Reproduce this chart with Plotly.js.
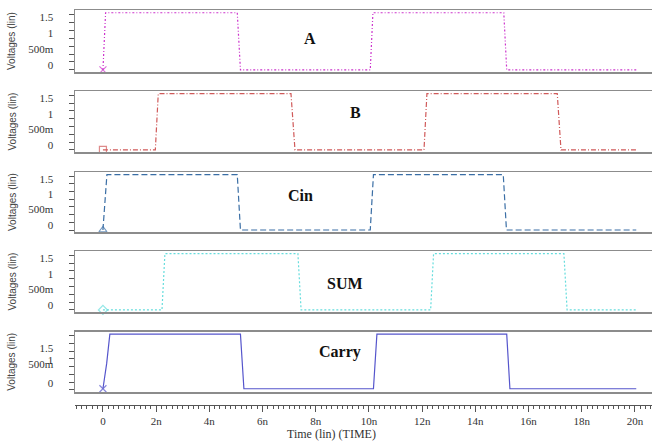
<!DOCTYPE html>
<html><head><meta charset="utf-8">
<script src="https://cdn.plot.ly/plotly-3.0.1.min.js"></script>
<style>html,body{margin:0;padding:0;background:#fff}#chart{width:652px;height:441px}</style>
</head><body><div id="chart"></div>
<script>
// ---- data (time in ns, voltage in V) ----
const signalNames = ['A', 'B', 'Cin', 'SUM', 'Carry'];
const tA = [0, 0.1, 5.05, 5.17, 10.05, 10.15, 15.07, 15.18, 20.05];
const vA = [0, 1.8, 1.8, 0, 0, 1.8, 1.8, 0, 0];
const tB = [0, 1.97, 2.08, 7.07, 7.22, 12.07, 12.18, 17.08, 17.22, 20.05];
const vB = [0, 0, 1.8, 1.8, 0, 0, 1.8, 1.8, 0, 0];
const tCin = [0, 0.15, 5.05, 5.17, 10.05, 10.17, 15.05, 15.17, 20.05];
const vCin = [0, 1.8, 1.8, 0, 0, 1.8, 1.8, 0, 0];
const tSum = [0, 2.22, 2.33, 7.33, 7.45, 12.32, 12.43, 17.33, 17.45, 20.05];
const vSum = [0, 0, 1.8, 1.8, 0, 0, 1.8, 1.8, 0, 0];
const tCarry = [0, 0.14, 0.26, 5.17, 5.3, 10.17, 10.3, 15.18, 15.3, 20.05];
const vCarry = [0.04, 0.85, 1.8, 1.8, 0.04, 0.04, 1.8, 1.8, 0.04, 0.04];

const yTickVals = [0, 0.5, 1, 1.5];
const yTickText = ['0', '500m', '1', '1.5'];
const carryTickVals = [0.06, 0.68, 0.81, 1.2];
const yMinorVals = [0, 0.25, 0.5, 0.75, 1, 1.25, 1.5, 1.75];
const xTickVals = [0, 2, 4, 6, 8, 10, 12, 14, 16, 18, 20];
const xTickText = ['0', '2n', '4n', '6n', '8n', '10n', '12n', '14n', '16n', '18n', '20n'];
const xTitle = 'Time (lin) (TIME)';
const yTitle = 'Voltages (lin)';

// ---- styling ----
const W = 652, H = 441, ML = 75, MR = 0, MT = 10, MB = 36;
const PW = W - ML - MR, PH = H - MT - MB;
const panelsPx = [[10, 72], [91, 152], [172, 232], [251, 312], [331.5, 392]];
const colors = ['#cc33cc', '#d05a5a', '#3a6ea5', '#66dddd', '#5555cc'];
const dashes = ['2px,2px,1px,2px', '5px,2px,1px,2px', '6px,3px', '2px,2px', 'solid'];
const symbols = ['x-thin-open', 'square-open', 'triangle-up-open', 'diamond-open', 'x-thin-open'];
const series = [[tA, vA], [tB, vB], [tCin, vCin], [tSum, vSum], [tCarry, vCarry]];
const labelPx = [[310, 38], [355, 112], [300, 195], [345, 283], [340, 352]];

const py = y => (H - MB - y) / PH;
const px = x => (x - ML) / PW;
const xRange = [-1.05, -1.05 + PW / 26.6];
const yRange = [-0.065, 1.886];

const traces = [];
const layout = {
  width: W, height: H,
  margin: {l: ML, r: MR, t: MT, b: MB, pad: 0},
  paper_bgcolor: '#fff', plot_bgcolor: 'rgba(0,0,0,0)',
  showlegend: false,
  font: {family: 'Liberation Serif', size: 11, color: '#333'},
  annotations: []
};

// bottom time axis (free, below the last panel) - defined first so its layer sits underneath
traces.push({x: [], y: [], xaxis: 'x6', yaxis: 'y5', type: 'scatter', mode: 'lines', hoverinfo: 'skip'});

series.forEach((s, i) => {
  const k = i + 1;
  const sfx = k === 1 ? '' : String(k);
  traces.push({
    x: s[0], y: s[1], xaxis: 'x' + sfx, yaxis: 'y' + sfx,
    type: 'scatter', mode: 'lines+markers',
    line: {color: colors[i], width: 1.2, dash: dashes[i]},
    marker: {symbol: symbols[i], color: colors[i], size: s[0].map((_, j) => j === 0 ? 7 : 0),
             line: {color: colors[i], width: 1.2}},
    hoverinfo: 'skip', cliponaxis: false
  });
  const [top, bot] = panelsPx[i];
  layout['xaxis' + sfx] = {
    domain: [0, 1], anchor: 'y' + sfx, range: xRange,
    showline: true, mirror: true, linecolor: '#8c8c8c', linewidth: 1.5,
    showgrid: false, zeroline: false, showticklabels: false, ticks: ''
  };
  layout['yaxis' + sfx] = {
    domain: [py(bot), py(top)], anchor: 'x' + sfx, range: yRange,
    showline: true, mirror: true, linecolor: '#8c8c8c', linewidth: 1.5,
    showgrid: false, zeroline: false,
    tickmode: 'array', tickvals: k === 5 ? carryTickVals : yTickVals, ticktext: yTickText,
    ticks: '', ticklabelstandoff: 18, ticklabelshift: -5,
    tickfont: {family: 'Liberation Serif', size: 11, color: '#333'},
    minor: {tickmode: 'array', tickvals: yMinorVals, ticks: 'outside', ticklen: 5, tickcolor: '#555', tickwidth: 1}
  };
  layout.annotations.push({
    xref: 'paper', yref: 'paper', x: px(12), y: py((top + bot) / 2),
    xanchor: 'center', yanchor: 'middle',
    text: yTitle, textangle: -90, showarrow: false,
    font: {family: 'Liberation Sans', size: 10, color: '#444'}
  });
  layout.annotations.push({
    xref: 'paper', yref: 'paper', x: px(labelPx[i][0]), y: py(labelPx[i][1]),
    xanchor: 'center', yanchor: 'middle',
    text: '<b>' + signalNames[i] + '</b>', showarrow: false,
    font: {family: 'Liberation Serif', size: 16, color: '#111'}
  });
});

layout.xaxis6 = {
  domain: [0, 1], anchor: 'free', position: 0, range: xRange,
  showline: true, linecolor: '#555', linewidth: 1,
  showgrid: false, zeroline: false,
  tickmode: 'array', tickvals: xTickVals, ticktext: xTickText,
  ticks: 'outside', ticklen: 6, tickcolor: '#555', tickwidth: 1,
  tickfont: {family: 'Liberation Serif', size: 11, color: '#333'},
  minor: {tick0: 0, dtick: 0.2, ticks: 'outside', ticklen: 3, tickcolor: '#555', tickwidth: 1}
};
layout.annotations.push({
  xref: 'paper', yref: 'paper', x: px(331), y: py(434),
  xanchor: 'center', yanchor: 'middle',
  text: xTitle, showarrow: false,
  font: {family: 'Liberation Serif', size: 12, color: '#333'}
});

Plotly.newPlot('chart', traces, layout, {staticPlot: true, displayModeBar: false});
</script></body></html>
